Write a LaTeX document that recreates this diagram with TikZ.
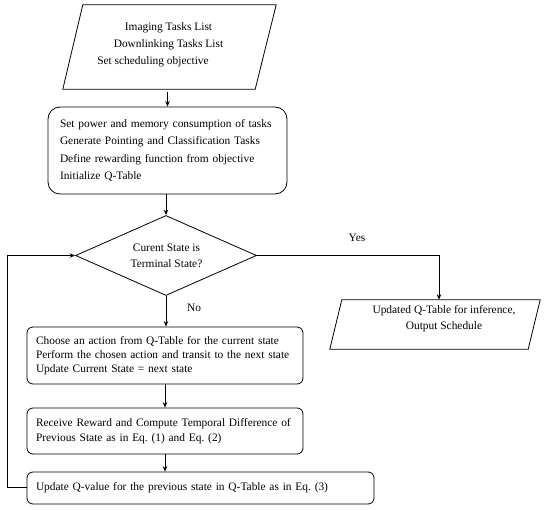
\documentclass[tikz,border=0pt]{standalone}
\usepackage{fontspec}
\setmainfont{Liberation Serif}
\usetikzlibrary{shapes.geometric,arrows.meta,calc}
\begin{document}
\frenchspacing
\begin{tikzpicture}[x=1pt,y=-1pt,
  iobox/.style={inner sep=0pt},
  ioline/.style={line width=0.8pt, line join=miter},
  proc/.style={draw, rounded corners=6pt, align=left, inner ysep=0pt, line width=0.8pt},
  txt/.style={inner sep=0pt, font=\fontsize{11.4}{16}\selectfont},
  conn/.style={line width=1pt, -{Stealth[length=5.5pt,width=4.5pt]}}
]
\useasboundingbox (0,0) rectangle (550,510);

% input parallelogram
\node[iobox, minimum width=213pt, minimum height=84pt] (inp) at (169.5,47) {};
\draw[ioline] (inp.south west) -- ([xshift=20pt]inp.north west) -- (inp.north east)
  -- ([xshift=-21pt]inp.south east) -- cycle;
\node[txt, align=center, font=\fontsize{11.4}{17}\selectfont] (inptxt) at (168.5,36.5)
  {Imaging Tasks List\\Downlinking Tasks List};
\node[txt] (objtxt) at (153,62) {Set scheduling objective};

% initialisation box
\node[proc, rounded corners=12pt, minimum height=87pt, text width=215pt, inner xsep=12pt,
      font=\fontsize{11.4}{17.5}\selectfont] (init) at (167.5,150.5)
  {Set power and memory consumption of tasks\\
   Generate Pointing and Classification Tasks\\
   Define rewarding function from objective\\
   Initialize Q-Table};

% decision
\node[draw, diamond, minimum width=181pt, minimum height=80pt, inner sep=0pt, line width=0.8pt] (dia) at (166,255.5) {};
\node[txt, align=center] (diatxt) at (166.5,256) {Curent State is\\Terminal State?};

% output parallelogram
\node[iobox, minimum width=210pt, minimum height=49pt] (outp) at (435,324.5) {};
\draw[ioline] (outp.south west) -- ([xshift=12pt]outp.north west) -- (outp.north east)
  -- ([xshift=-12pt]outp.south east) -- cycle;
\node[txt, align=center] (outtxt) at (444,319) {Updated Q-Table for inference,\\Output Schedule};

% action box
\node[proc, minimum height=57pt, text width=258pt, inner xsep=9pt,
      font=\fontsize{11.4}{14}\selectfont] (act) at (165,355.5)
  {Choose an action from Q-Table for the current state\\
   Perform the chosen action and transit to the next state\\
   Update Current State = next state};

% reward box
\node[proc, minimum height=46pt, text width=258pt, inner xsep=9pt,
      font=\fontsize{11.4}{15}\selectfont] (rew) at (165,431)
  {Receive Reward and Compute Temporal Difference of\\
   Previous State as in Eq. (1) and Eq. (2)};

% update box
\node[proc, minimum height=32pt, text width=329pt, inner xsep=9pt,
      font=\fontsize{11.4}{15}\selectfont] (upd) at (200.5,488)
  {Update Q-value for the previous state in Q-Table as in Eq. (3)};

% labels
\node[txt] (yes) at (357,238) {Yes};
\node[txt] (no) at (194,308) {No};

% connectors
\draw[conn, shorten <=3pt] (init.north |- inp.south) -- (init.north);
\draw[conn] (dia.north |- init.south) -- (dia.north);
\draw[conn] (dia.south) -- (dia.south |- act.north);
\draw[conn] (dia.east) -| ([xshift=4pt]outp.north);
\draw[conn] (act.south) -- (rew.north);
\draw[conn] (rew.south) -- (rew.south |- upd.north);
\draw[conn] (upd.west) -- ++(-19,0) |- (dia.west);
\end{tikzpicture}
\end{document}
